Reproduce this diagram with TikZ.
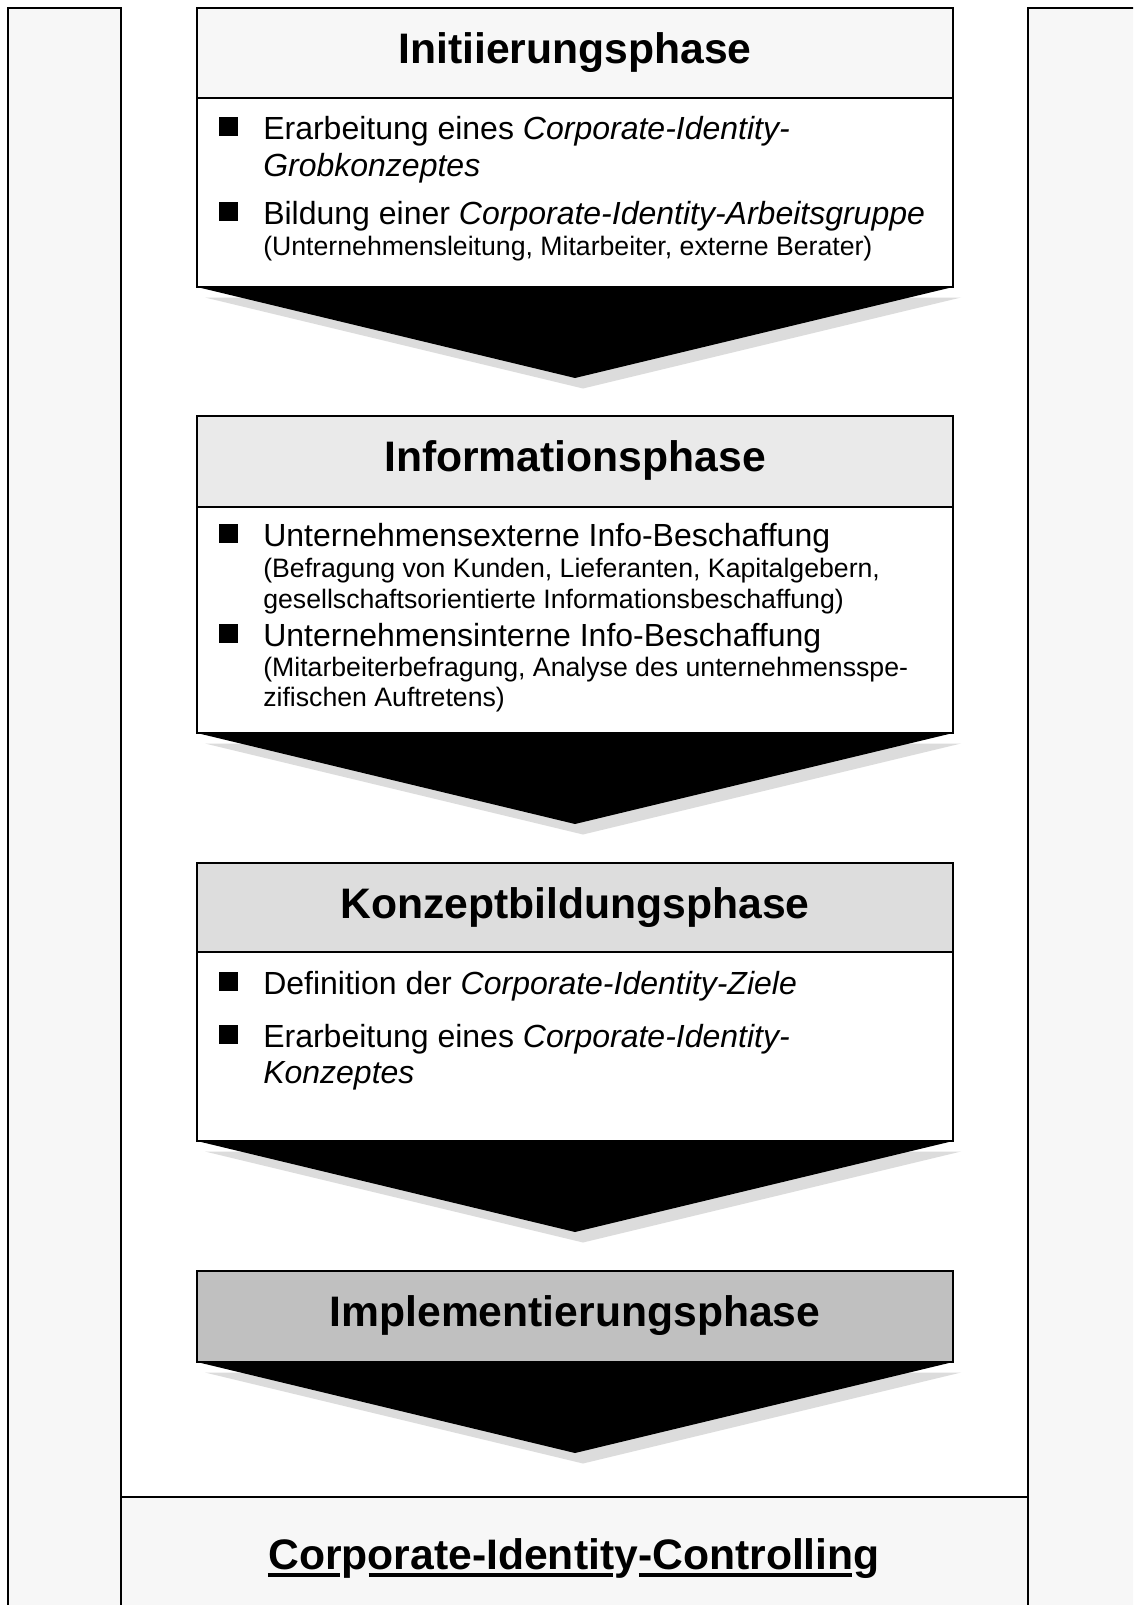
\documentclass[tikz,border=0pt]{standalone}
\usepackage{fontspec}
\setmainfont{Liberation Sans}
\definecolor{panelgray}{HTML}{F7F7F7}
\definecolor{hdrA}{HTML}{F7F7F7}
\definecolor{hdrB}{HTML}{EAEAEA}
\definecolor{hdrC}{HTML}{DDDDDD}
\definecolor{hdrD}{HTML}{C0C0C0}
\definecolor{shadowgray}{HTML}{DCDCDC}
\newcommand\ctrlfont{\fontsize{32pt}{38pt}\selectfont\bfseries}
\newlength\ulwA \newlength\ulwB \newlength\ulwC \newlength\ulwD \newlength\ulwE
\AtBeginDocument{%
  \settowidth{\ulwA}{\ctrlfont Cor}%
  \settowidth{\ulwB}{\ctrlfont Corp}%
  \settowidth{\ulwC}{\ctrlfont Corporate-Identit}%
  \settowidth{\ulwD}{\ctrlfont Corporate-Identity}%
  \settowidth{\ulwE}{\ctrlfont Corporate-Identity-Controllin}%
}
\begin{document}
\begin{tikzpicture}[x=0.75pt,y=-0.75pt,
  panel/.style={draw=black,line width=1pt,fill=panelgray},
  phasehdr/.style={draw=black,line width=1pt,minimum width=567pt,inner sep=0pt,outer sep=0pt},
  phasebody/.style={draw=black,line width=1pt,fill=white,minimum width=567pt,inner sep=0pt,outer sep=0pt,anchor=north},
  title/.style={anchor=base,inner sep=0pt,font=\ctrlfont},
  bodytext/.style={anchor=base west,inner sep=0pt,font=\fontsize{24pt}{28pt}\selectfont},
  smalltext/.style={anchor=base west,inner sep=0pt,font=\fontsize{20pt}{24pt}\selectfont},
  sq/.style={fill=black,inner sep=0pt,minimum size=14.25pt},
  arrowhead/.style={fill=black},
  arrowshadow/.style={fill=shadowgray},
  uline/.style={line width=3pt}
]
\clip (0,0) rectangle (1133,1605);
\fill[white] (0,0) rectangle (1133,1605);
% side and bottom panels
\draw[panel] (8,8) rectangle (121,1640);
\draw[panel] (1028,8) rectangle (1170,1640);
\draw[panel] (121,1497) rectangle (1028,1640);

% ---------- Phase A ----------
\node[phasehdr,fill=hdrA,minimum height=67.5pt] (hA) at (575,53) {};
\node[phasebody,minimum height=141.75pt] (bA) at (hA.south) {};
\coordinate (tipA) at ([yshift=-68.25pt]bA.south);
\fill[arrowshadow] ([shift={(8,10.5)}]bA.south west) -- ([shift={(8,10.5)}]bA.south east) -- ([shift={(8,10.5)}]tipA) -- cycle;
\fill[arrowhead] (bA.south west) -- (bA.south east) -- (tipA) -- cycle;
\node[title] (titleA) at (575,63.5) {Initiierungsphase};
\node[sq] (qA1) at (228.5,126.5) {};
\node[bodytext] (lA1) at (263,139.5) {Erarbeitung eines \textit{Corporate-Identity-}};
\node[bodytext] (lA2) at (263,176.3) {\textit{Grobkonzeptes}};
\node[sq] (qA2) at (228.5,211.5) {};
\node[bodytext] (lA3) at (263,224.5) {Bildung einer \textit{Corporate-Identity-Arbeitsgruppe}};
\node[smalltext] (lA4) at (263,256) {(Unternehmensleitung, Mitarbeiter, externe Berater)};

% ---------- Phase B ----------
\node[phasehdr,fill=hdrB,minimum height=68.25pt] (hB) at (575,461.5) {};
\node[phasebody,minimum height=169.5pt] (bB) at (hB.south) {};
\coordinate (tipB) at ([yshift=-68.25pt]bB.south);
\fill[arrowshadow] ([shift={(8,10.5)}]bB.south west) -- ([shift={(8,10.5)}]bB.south east) -- ([shift={(8,10.5)}]tipB) -- cycle;
\fill[arrowhead] (bB.south west) -- (bB.south east) -- (tipB) -- cycle;
\node[title] (titleB) at (575,471.5) {Informationsphase};
\node[sq] (qB1) at (228.5,533.5) {};
\node[bodytext] (lB1) at (263,546.5) {Unternehmensexterne Info-Beschaffung};
\node[smalltext] (lB2) at (263,577.5) {(Befragung von Kunden, Lieferanten, Kapitalgebern,};
\node[smalltext] (lB3) at (263,608) {gesellschaftsorientierte Informationsbeschaffung)};
\node[sq] (qB2) at (228.5,633) {};
\node[bodytext] (lB4) at (263,646) {Unternehmensinterne Info-Beschaffung};
\node[smalltext] (lB5) at (263,676) {(Mitarbeiterbefragung, Analyse des unternehmensspe-};
\node[smalltext] (lB6) at (263,706.7) {zifischen Auftretens)};

% ---------- Phase C ----------
\node[phasehdr,fill=hdrC,minimum height=66.75pt] (hC) at (575,907.5) {};
\node[phasebody,minimum height=141.75pt] (bC) at (hC.south) {};
\coordinate (tipC) at ([yshift=-68.25pt]bC.south);
\fill[arrowshadow] ([shift={(8,10.5)}]bC.south west) -- ([shift={(8,10.5)}]bC.south east) -- ([shift={(8,10.5)}]tipC) -- cycle;
\fill[arrowhead] (bC.south west) -- (bC.south east) -- (tipC) -- cycle;
\node[title] (titleC) at (575,918.5) {Konzeptbildungsphase};
\node[sq] (qC1) at (228.5,981) {};
\node[bodytext] (lC1) at (263,994) {Definition der \textit{Corporate-Identity-Ziele}};
\node[sq] (qC2) at (228.5,1034) {};
\node[bodytext] (lC2) at (263,1047) {Erarbeitung eines \textit{Corporate-Identity-}};
\node[bodytext] (lC3) at (263,1083.8) {\textit{Konzeptes}};

% ---------- Phase D ----------
\node[phasehdr,fill=hdrD,minimum height=68.25pt] (hD) at (575,1316.5) {};
\coordinate (tipD) at ([yshift=-68.25pt]hD.south);
\fill[arrowshadow] ([shift={(8,10.5)}]hD.south west) -- ([shift={(8,10.5)}]hD.south east) -- ([shift={(8,10.5)}]tipD) -- cycle;
\fill[arrowhead] (hD.south west) -- (hD.south east) -- (tipD) -- cycle;
\node[title] (titleD) at (575,1326.5) {Implementierungsphase};

% ---------- Controlling ----------
\node[title] (ctrl) at (574,1569) {Corporate-Identity-Controlling};
\coordinate (ul0) at ([yshift=-4.5pt]ctrl.base west);
\draw[uline] (ul0) -- ([xshift=\ulwA-0.8pt]ul0);
\draw[uline] ([xshift=\ulwB+0.8pt]ul0) -- ([xshift=\ulwC-0.8pt]ul0);
\draw[uline] ([xshift=\ulwD+0.8pt]ul0) -- ([xshift=\ulwE-0.8pt]ul0);
\end{tikzpicture}
\end{document}
